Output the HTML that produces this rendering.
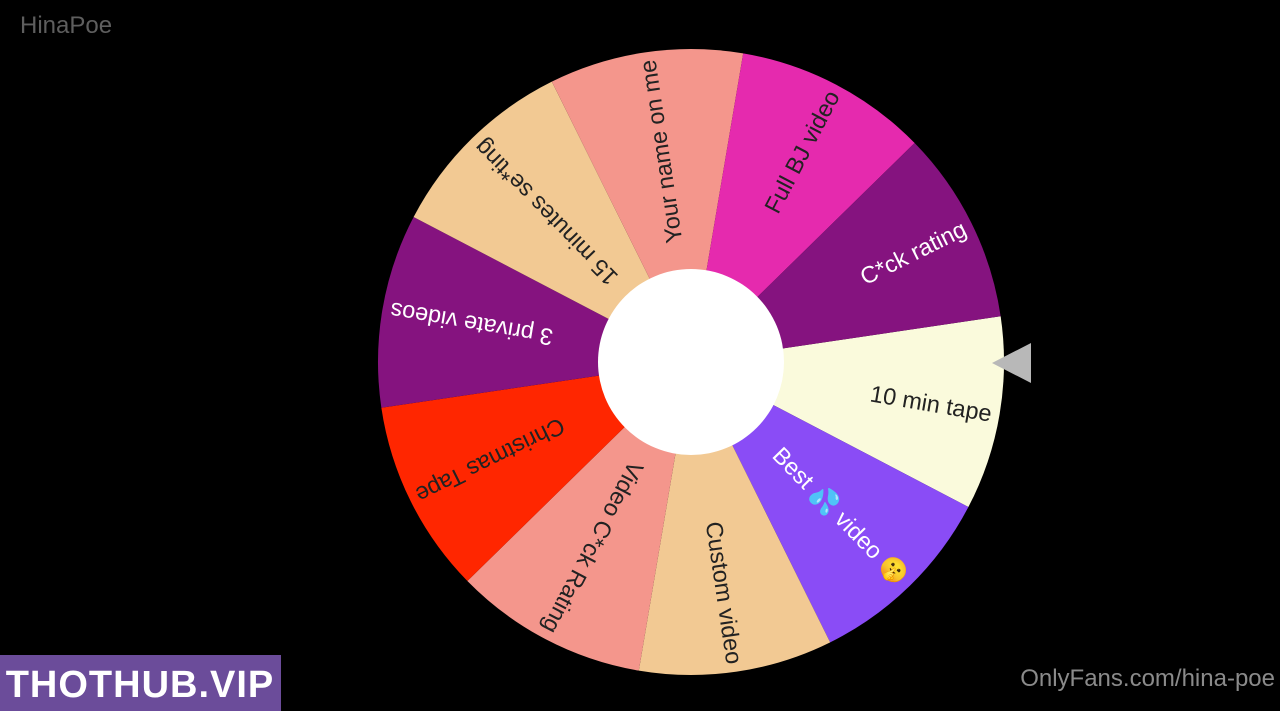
<!DOCTYPE html>
<html><head><meta charset="utf-8"><style>
html,body{margin:0;padding:0;background:#000;width:1280px;height:711px;overflow:hidden;font-family:"Liberation Sans",sans-serif}
</style></head><body>
<svg width="1280" height="711" viewBox="0 0 1280 711" xmlns="http://www.w3.org/2000/svg">
<rect width="1280" height="711" fill="#000"/>
<g id="wheel"></g>
<circle cx="691" cy="362" r="93" fill="#fff"/>
<polygon points="992,363 1031,343 1031,383" fill="#b8b8b8"/>
<text x="20" y="33" fill="#5e5e5e" font-size="24">HinaPoe</text>
<text x="1275" y="686" fill="#8a8a8a" font-size="24" text-anchor="end">OnlyFans.com/hina-poe</text>
<rect x="0" y="655" width="281" height="56" fill="#6b4c9a"/>
<text x="140" y="697" fill="#fff" font-size="38" font-weight="bold" text-anchor="middle" letter-spacing="1">THOTHUB.VIP</text>
</svg>
<script>
var segs=[["10 min tape","#fafadc","#222"],["Best 💦 video 🤫","#8a4cf6","#fff"],["Custom video","#f2c993","#222"],["Video C*ck Rating","#f4968c","#222"],["Christmas Tape","#ff2600","#222"],["3 private videos","#85137f","#fff"],["15 minutes se*ting","#f2c993","#222"],["Your name on me","#f4968c","#222"],["Full BJ video","#e52aae","#222"],["C*ck rating","#85137f","#fff"]];
var cx=691,cy=362,R=313,g=document.getElementById('wheel'),s="";
for(var i=0;i<10;i++){var a0=(-8.4+36*i)*Math.PI/180,a1=(27.6+36*i)*Math.PI/180,m=9.6+36*i;
s+='<path d="M'+cx+','+cy+' L'+(cx+R*Math.cos(a0))+','+(cy+R*Math.sin(a0))+' A'+R+','+R+' 0 0 1 '+(cx+R*Math.cos(a1))+','+(cy+R*Math.sin(a1))+' Z" fill="'+segs[i][1]+'"/>';
s+='<text transform="translate('+cx+','+cy+') rotate('+m+')" x="305" y="9" text-anchor="end" font-size="23.5" fill="'+segs[i][2]+'">'+segs[i][0]+'</text>';}
g.innerHTML=s;
</script>
</body></html>
